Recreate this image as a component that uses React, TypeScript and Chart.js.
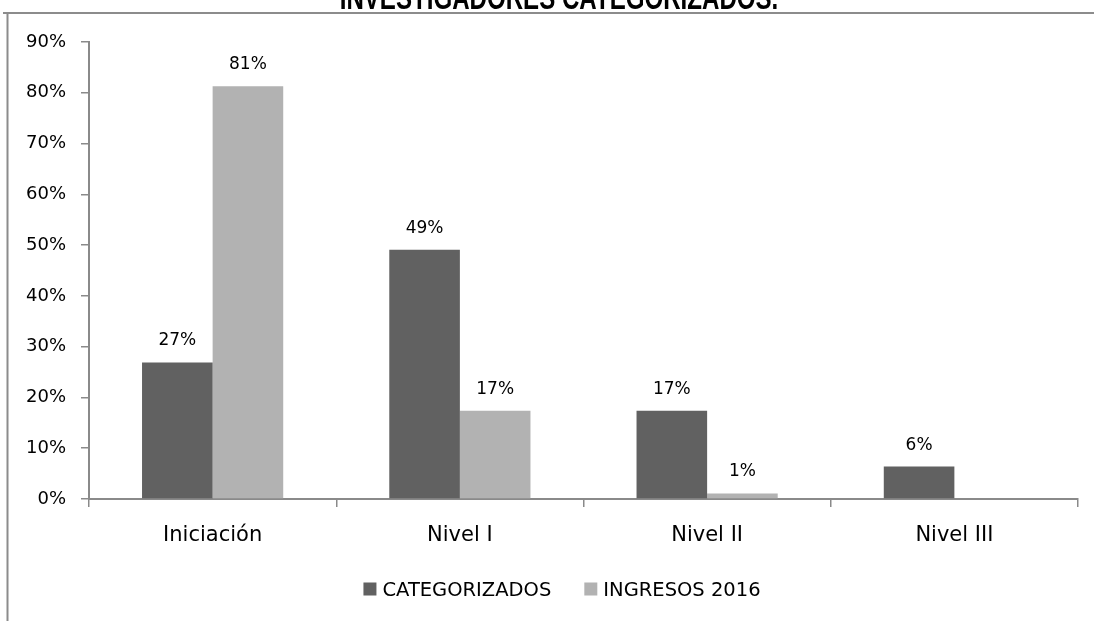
import React, { useEffect, useRef } from "react";
import { Chart, registerables } from "chart.js";

Chart.register(...registerables);

const titleText = "INVESTIGADORES CATEGORIZADOS.";
const categories = ["Iniciación", "Nivel I", "Nivel II", "Nivel III"];
const seriesNames = ["CATEGORIZADOS", "INGRESOS 2016"];
const categorizados = [26.9, 49.1, 17.4, 6.4];
const ingresos2016 = [81.3, 17.4, 1.1, 0];
const seriesColors = ["#616161", "#b2b2b2"];
const yMin = 0;
const yMax = 90;
const yStep = 10;

const FONT = '"DejaVu Sans", sans-serif';
const AXIS_COLOR = "#8a8a8a";

const framePlugin = {
  id: "frameAndTitle",
  beforeDraw(chart: any) {
    const ctx = chart.ctx;
    ctx.save();
    ctx.fillStyle = "#ffffff";
    ctx.fillRect(0, 0, chart.width, chart.height);
    ctx.strokeStyle = "#8c8c8c";
    ctx.lineWidth = 2;
    ctx.beginPath();
    ctx.moveTo(3, 13);
    ctx.lineTo(chart.width, 13);
    ctx.moveTo(7.5, 13);
    ctx.lineTo(7.5, chart.height);
    ctx.stroke();
    ctx.restore();
  },
  afterDraw(chart: any) {
    const ctx = chart.ctx;
    ctx.save();
    const fam = '"Liberation Sans", Arial, sans-serif';
    ctx.font = `bold 22px ${fam}`;
    const w = ctx.measureText(titleText).width;
    const size = (22 * 438) / w;
    ctx.font = `bold ${size.toFixed(1)}px ${fam}`;
    ctx.fillStyle = "#000";
    ctx.textAlign = "center";
    ctx.textBaseline = "alphabetic";
    ctx.translate(559, 9);
    ctx.scale(1, 1.35);
    ctx.fillText(titleText, 0, 0);
    ctx.restore();
  },
};

const dataLabelPlugin = {
  id: "dataLabels",
  afterDatasetsDraw(chart: any) {
    const ctx = chart.ctx;
    ctx.save();
    ctx.font = `17px ${FONT}`;
    ctx.fillStyle = "#000";
    ctx.textAlign = "center";
    ctx.textBaseline = "alphabetic";
    chart.data.datasets.forEach((ds: any, di: number) => {
      const meta = chart.getDatasetMeta(di);
      meta.data.forEach((el: any, i: number) => {
        const v = ds.data[i];
        if (!v) return;
        ctx.fillText(Math.round(v) + "%", el.x, el.y - 17);
      });
    });
    ctx.restore();
  },
};

const legendPlugin = {
  id: "customLegend",
  afterDraw(chart: any) {
    const ctx = chart.ctx;
    ctx.save();
    ctx.font = `19.5px ${FONT}`;
    const box = 13;
    const gap = 6;
    const spacing = 33;
    const items = chart.data.datasets.map((ds: any) => ({
      label: ds.label,
      color: ds.backgroundColor,
      w: ctx.measureText(ds.label).width,
    }));
    let total = 0;
    items.forEach((it: any, i: number) => {
      total += box + gap + it.w + (i < items.length - 1 ? spacing : 0);
    });
    let x = 562 - total / 2;
    const cy = 589;
    ctx.textBaseline = "alphabetic";
    ctx.textAlign = "left";
    items.forEach((it: any) => {
      ctx.fillStyle = it.color;
      ctx.fillRect(x, cy - box / 2, box, box);
      ctx.fillStyle = "#000";
      ctx.fillText(it.label, x + box + gap, cy + 7);
      x += box + gap + it.w + spacing;
    });
    ctx.restore();
  },
};

export default function App() {
  const ref = useRef<HTMLCanvasElement | null>(null);
  useEffect(() => {
    const canvas = ref.current;
    if (!canvas) return;
    const chart = new Chart(canvas, {
      type: "bar",
      data: {
        labels: categories,
        datasets: [
          {
            label: seriesNames[0],
            data: categorizados,
            backgroundColor: seriesColors[0],
            categoryPercentage: 0.571,
            barPercentage: 1,
          },
          {
            label: seriesNames[1],
            data: ingresos2016,
            backgroundColor: seriesColors[1],
            categoryPercentage: 0.571,
            barPercentage: 1,
          },
        ],
      },
      options: {
        animation: false,
        responsive: false,
        maintainAspectRatio: false,
        layout: { padding: { left: 0, right: 16, top: 42, bottom: 0 } },
        plugins: {
          legend: { display: false },
          title: { display: false },
          tooltip: { enabled: false },
        },
        scales: {
          x: {
            offset: true,
            afterFit: (s: any) => {
              s.height = 122;
            },
            grid: {
              offset: true,
              drawOnChartArea: false,
              drawTicks: true,
              tickLength: 8,
              color: AXIS_COLOR,
              lineWidth: 1.5,
            },
            border: { color: AXIS_COLOR, width: 2 },
            ticks: {
              color: "#000",
              font: { family: FONT, size: 21 },
              padding: 16,
              maxRotation: 0,
            },
          },
          y: {
            min: yMin,
            max: yMax,
            afterFit: (s: any) => {
              s.width = 89;
            },
            grid: {
              drawOnChartArea: false,
              drawTicks: true,
              tickLength: 8,
              color: AXIS_COLOR,
              lineWidth: 1.5,
            },
            border: { color: AXIS_COLOR, width: 2 },
            ticks: {
              stepSize: yStep,
              color: "#000",
              font: { family: FONT, size: 18 },
              padding: 15,
              callback: (v: any) => v + "%",
            },
          },
        },
      },
      plugins: [framePlugin, dataLabelPlugin, legendPlugin],
    });
    return () => chart.destroy();
  }, []);
  return (
    <div style={{ position: "absolute", left: 0, top: 0, width: 1094, height: 621 }}>
      <canvas ref={ref} width={1094} height={621} style={{ display: "block" }} />
    </div>
  );
}
